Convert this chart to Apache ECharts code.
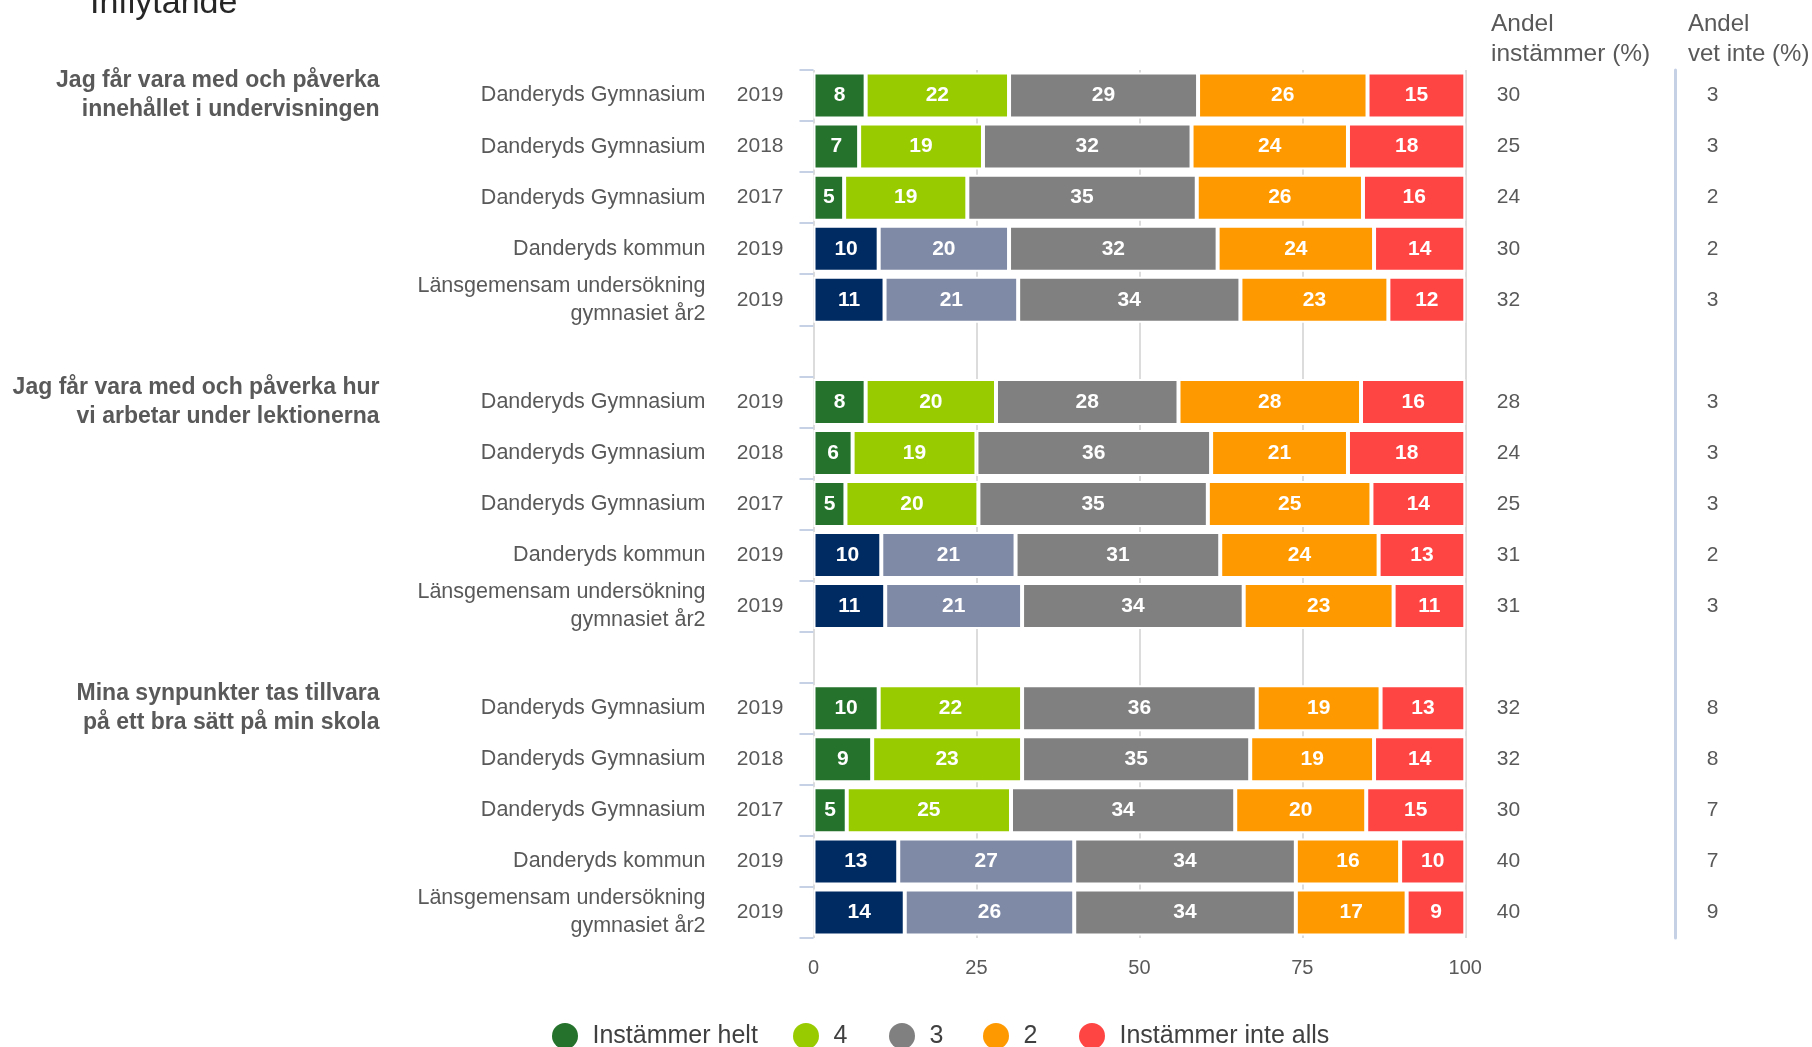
<!DOCTYPE html>
<html>
<head>
<meta charset="utf-8">
<script src="https://cdn.jsdelivr.net/npm/echarts@6/dist/echarts.min.js"></script>
<style>
    html, body {margin: 0; padding: 0; background: #fff;}
    #main {width: 1812px; height: 1047px;}
</style>
</head>
<body>
<div id="main"></div>

<script>
    // frågor (en grupp per fråga)
    var groupLabels = [
        'Jag får vara med och påverka\ninnehållet i undervisningen',
        'Jag får vara med och påverka hur\nvi arbetar under lektionerna',
        'Mina synpunkter tas tillvara\npå ett bra sätt på min skola'
    ];
    // enheter och år inom varje grupp
    var units = ['Danderyds Gymnasium', 'Danderyds Gymnasium', 'Danderyds Gymnasium',
        'Danderyds kommun', 'Länsgemensam undersökning\ngymnasiet år2'];
    var years = ['2019', '2018', '2017', '2019', '2019'];

    // andelar (%) per svarsalternativ, 3 grupper x 5 rader
    var helt = [8, 7, 4.7, 10, 10.9, 8, 6, 4.9, 10.4, 11, 10, 9, 5.1, 13, 14];
    var fyra = [22, 19, 18.9, 20, 20.5, 20, 19, 20.4, 20.6, 21, 22, 23, 25.2, 27, 26];
    var tre = [29, 32, 35.2, 32, 34.1, 28, 36, 35.2, 31.4, 34, 36, 35, 34.4, 34, 34];
    var tva = [26, 24, 25.5, 24, 22.7, 28, 21, 25.1, 24.3, 23, 19, 19, 20.1, 16, 17];
    var inteAlls = [15, 18, 15.7, 14, 11.8, 16, 18, 14.4, 13.3, 11, 13, 14, 15.2, 10, 9];

    var andelInstammer = [30, 25, 24, 30, 32, 28, 24, 25, 31, 31, 32, 32, 30, 40, 40];
    var andelVetInte = [3, 3, 2, 2, 3, 3, 3, 3, 2, 3, 8, 8, 7, 7, 9];

    var xTicks = [0, 25, 50, 75, 100];
    var legendNames = ['Instämmer helt', '4', '3', '2', 'Instämmer inte alls'];
    var legendLeft = [547, 788, 884, 978, 1074];

    var font = '"Liberation Sans", Arial, sans-serif';
    var grayText = '#595959';

    // rader inkl. tom rad mellan grupperna
    var rows = [];
    for (var g = 0; g < groupLabels.length; g++) {
        for (var r = 0; r < units.length; r++) {
            rows.push({g: g, r: r, i: g * units.length + r});
        }
        if (g < groupLabels.length - 1) rows.push(null);
    }

    var catNames = rows.map(function (x, k) { return x ? k + '' : ' ' + k; });

    function colData(arr, schoolColor, otherColor) {
        return rows.map(function (x) {
            if (!x) return '-';
            var item = {value: arr[x.i]};
            if (schoolColor) item.itemStyle = {color: x.r < 3 ? schoolColor : otherColor};
            return item;
        });
    }

    function textFor(fn) {
        return function (v, k) {
            var x = rows[k];
            return x ? fn(x) : '';
        };
    }

    var mycharts = echarts.init(document.getElementById('main'));

    var barLabel = {
        show: true,
        position: 'inside',
        color: '#fff',
        fontWeight: 'bold',
        fontSize: 21,
        fontFamily: font,
        formatter: function (p) { return Math.round(p.value); }
    };

    function barSeries(name, data, color) {
        return {
            name: name,
            type: 'bar',
            stack: 'total',
            yAxisIndex: 0,
            barWidth: 46,
            data: data,
            itemStyle: {color: color, borderColor: '#fff', borderWidth: 2},
            label: barLabel,
            emphasis: {disabled: true}
        };
    }

    var legends = legendNames.map(function (name, k) {
        return {
            data: [name],
            left: legendLeft[k],
            top: 1018,
            icon: 'circle',
            itemWidth: 45,
            itemHeight: 26,
            selectedMode: false,
            itemStyle: {borderWidth: 0},
            textStyle: {fontSize: 25, color: '#404040', fontFamily: font}
        };
    });

    option = {
        animation: false,
        textStyle: {fontFamily: font},
        grid: {left: 813.5, right: 346.7, top: 70, bottom: 109, containLabel: false},
        graphic: [{
            type: 'text',
            left: 90,
            top: -13,
            style: {text: 'Inflytande', font: '34px ' + font, fill: '#262626'}
        }, {
            type: 'text',
            left: 1491,
            top: 9,
            style: {text: 'Andel\ninstämmer (%)', font: '24.5px ' + font, fill: grayText, lineHeight: 30}
        }, {
            type: 'text',
            left: 1688,
            top: 9,
            style: {text: 'Andel\nvet inte (%)', font: '24px ' + font, fill: grayText, lineHeight: 30}
        }],
        legend: legends,
        xAxis: {
            type: 'value',
            min: 0,
            max: 100,
            interval: 25,
            axisLine: {show: false},
            axisTick: {show: false},
            splitLine: {show: true, lineStyle: {color: '#dcdcdc', width: 2}},
            axisLabel: {
                color: grayText, fontSize: 20, margin: 20,
                formatter: function (v) { return xTicks.indexOf(v) >= 0 ? v : ''; }
            }
        },
        yAxis: [{
            // enhet
            type: 'category',
            data: catNames,
            inverse: true,
            position: 'left',
            offset: 4,
            axisLine: {show: false},
            axisTick: {show: true, length: 14, lineStyle: {color: '#c6d1e6', width: 2}},
            axisLabel: {
                interval: 0, margin: 104, color: grayText, fontSize: 21.5, lineHeight: 28,
                formatter: textFor(function (x) { return units[x.r]; })
            }
        }, {
            // år
            type: 'category',
            data: catNames,
            inverse: true,
            position: 'left',
            axisLine: {show: false},
            axisTick: {show: false},
            axisLabel: {
                interval: 0, margin: 30, color: grayText, fontSize: 21,
                formatter: textFor(function (x) { return years[x.r]; })
            }
        }, {
            // fråga
            type: 'category',
            data: catNames,
            inverse: true,
            position: 'left',
            axisLine: {show: false},
            axisTick: {show: false},
            axisLabel: {
                interval: 0, margin: 434, color: grayText, fontSize: 23, fontWeight: 'bold', lineHeight: 29,
                formatter: textFor(function (x) { return x.r === 0 ? groupLabels[x.g] : ''; })
            }
        }, {
            // andel instämmer
            type: 'category',
            data: catNames,
            inverse: true,
            position: 'right',
            axisLine: {show: false},
            axisTick: {show: false},
            axisLabel: {
                interval: 0, margin: 31.5, color: grayText, fontSize: 21,
                formatter: textFor(function (x) { return andelInstammer[x.i]; })
            }
        }, {
            // andel vet inte
            type: 'category',
            data: catNames,
            inverse: true,
            position: 'right',
            offset: 210.3,
            axisLine: {show: true, lineStyle: {color: '#c6d1e6', width: 3}},
            axisTick: {show: false},
            axisLabel: {
                interval: 0, margin: 37, align: 'center', color: grayText, fontSize: 21,
                formatter: textFor(function (x) { return andelVetInte[x.i]; })
            }
        }],
        series: [
            barSeries('Instämmer helt', colData(helt, '#24722b', '#002b62'), '#24722b'),
            barSeries('4', colData(fyra, '#99cc00', '#7f8aa7'), '#99cc00'),
            barSeries('3', colData(tre), '#808080'),
            barSeries('2', colData(tva), '#ff9900'),
            barSeries('Instämmer inte alls', colData(inteAlls), '#ff4444')
        ]
    };

    mycharts.setOption(option);
</script>
</body>
</html>
